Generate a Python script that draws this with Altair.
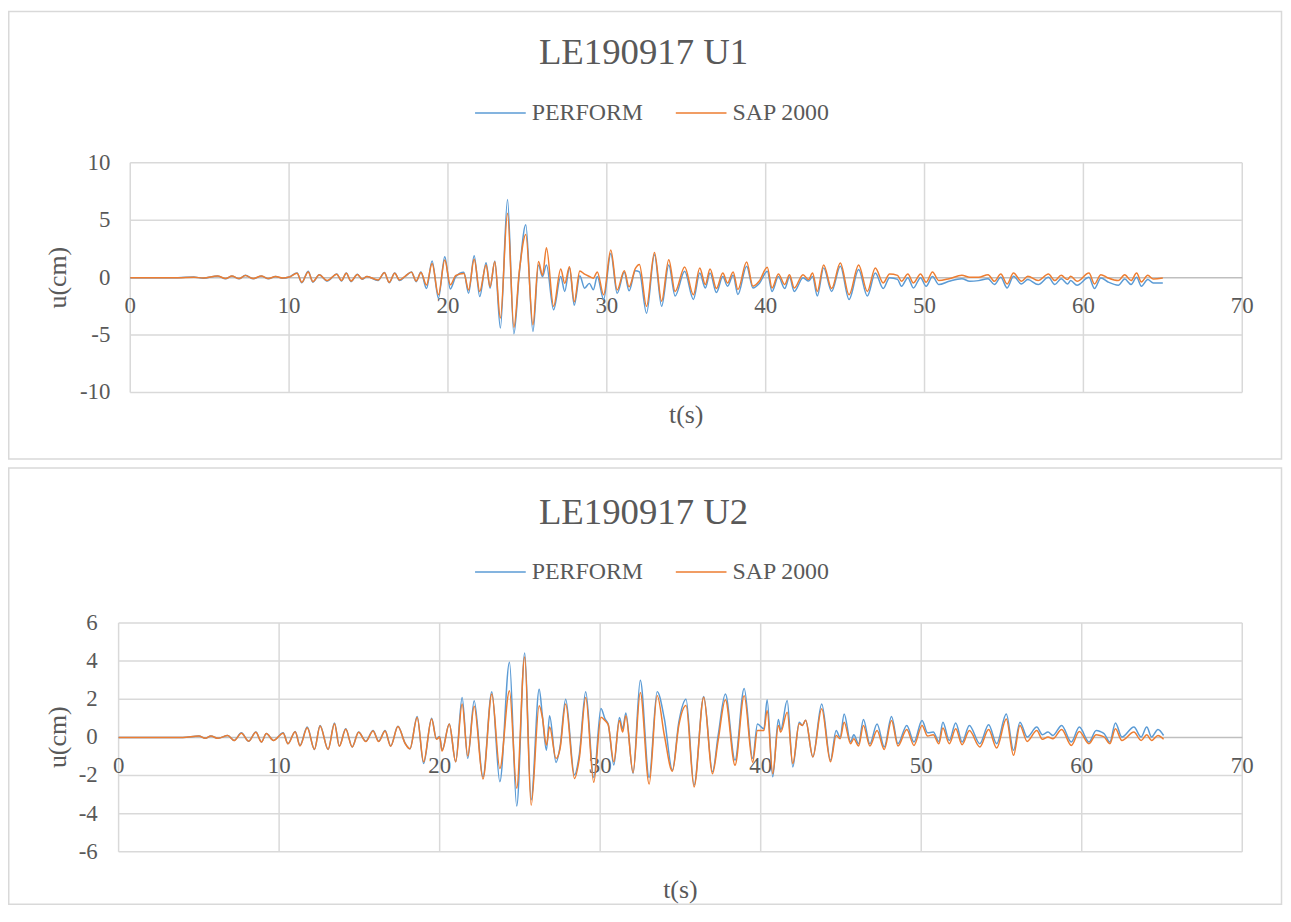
import altair as alt
import pandas as pd

# ---------------- text / categories ----------------
TITLE_U1 = "LE190917 U1"
TITLE_U2 = "LE190917 U2"
SERIES = ["PERFORM", "SAP 2000"]
COLORS = ["#5b9bd5", "#ed7d31"]
X_LABEL = "t(s)"
Y_LABEL = "u(cm)"
X_TICKS = [0, 10, 20, 30, 40, 50, 60, 70]
Y_TICKS_U1 = [-10, -5, 0, 5, 10]
Y_TICKS_U2 = [-6, -4, -2, 0, 2, 4, 6]

# ---------------- U1 : PERFORM ----------------
u1_perform_t = [0, 3.0, 4.0, 4.6, 5.5, 6.0, 6.4, 6.85, 7.25, 7.75, 8.25, 8.7, 9.15, 9.6, 10.0,
                10.5, 10.8, 11.2, 11.5, 11.9, 12.4, 13.0, 13.3, 13.6, 13.9, 14.3, 14.6, 14.9, 15.6,
                16.0, 16.3, 16.65, 16.95, 17.3, 17.7, 18.0, 18.3, 18.65, 19.0, 19.4, 19.8, 20.15,
                20.5, 21.0, 21.3, 21.65, 22.0, 22.4, 22.65, 22.95, 23.3, 23.75, 24.15, 24.5, 24.9,
                25.35, 25.7, 25.95, 26.2, 26.65, 27.1, 27.35, 27.65, 27.95, 28.3, 28.6, 28.9, 29.15,
                29.4, 29.8, 30.25, 30.65, 31.1, 31.4, 31.8, 32.05, 32.5, 33.0, 33.45, 33.9, 34.3,
                34.9, 35.45, 35.85, 36.2, 36.5, 36.9, 37.3, 37.6, 37.95, 38.25, 38.8, 39.2, 39.6,
                40.1, 40.4, 40.8, 41.2, 41.5, 41.8, 42.35, 42.7, 42.95, 43.25, 43.65, 44.15, 44.7,
                45.25, 45.85, 46.4, 46.9, 47.4, 47.8, 48.3, 48.55, 48.95, 49.3, 49.75, 50.1, 50.5,
                50.9, 51.55, 52.35, 52.85, 53.4, 54.0, 54.4, 54.8, 55.2, 55.6, 56.1, 56.5, 57.15,
                57.8, 58.2, 58.6, 59.0, 59.2, 59.6, 60.35, 60.7, 61.1, 61.55, 62.2, 62.6, 63.0,
                63.35, 63.65, 64.05, 64.4, 65.0]
u1_perform_u = [0, 0, 0.05, -0.05, 0.15, -0.1, 0.15, -0.1, 0.2, -0.1, 0.15, -0.1, 0.1, -0.05, 0.05,
                0.4, -0.45, 0.55, -0.4, 0.25, -0.3, 0.32, -0.3, 0.4, -0.35, 0.3, -0.15, 0.1, -0.25,
                0.45, -0.45, 0.4, -0.25, 0.1, 0.5, -0.35, 0.5, -0.95, 1.44, -1.79, 1.82, -0.98,
                0.1, 0.46, -1.36, 1.9, -1.65, 1.3, -0.92, 1.44, -4.39, 6.8, -4.9, 0.5, 4.6,
                -4.7, 1.1, 0.1, 1.1, -2.8, 0.1, -1.2, 0.87, -2.4, 0.17, -0.92, -0.5, -1.05,
                0.1, -1.9, 2.1, -1.36, 0.46, -1.15, 0.6, 0.5, -3.1, 2.0, -2.5, 1.1, -1.6,
                0.55, -1.9, 0.4, -0.9, 0.4, -1.3, 0.1, -0.75, 0.2, -1.47, 1.0, -0.9, -0.5,
                0.55, -1.2, 0.1, -0.95, 0.05, -1.2, 0.0, -0.3, 0.1, -1.6, 0.85, -1.2, 1.0,
                -1.9, 0.7, -1.6, 0.4, -0.95, 0.0, -0.15, -0.75, 0.0, -0.9, 0.0, -0.75, 0.1,
                -0.6, -0.32, -0.09, -0.32, -0.26, -0.09, -0.6, 0.03, -0.9, 0.12, -0.55, -0.17, -0.6,
                0.03, -0.6, -0.09, -0.55, -0.26, -0.66, 0.03, -0.95, -0.03, -0.38, -0.66, -0.12, -0.6,
                0.03, -0.75, -0.17, -0.46, -0.46]

# ---------------- U1 : SAP 2000 ----------------
u1_sap_t = u1_perform_t
u1_sap_u = [0, 0, 0.04, -0.04, 0.14, -0.08, 0.14, -0.08, 0.18, -0.08, 0.14, -0.08, 0.1, -0.04, 0.05,
            0.38, -0.4, 0.5, -0.35, 0.25, -0.25, 0.3, -0.25, 0.38, -0.3, 0.28, -0.12, 0.1, -0.2,
            0.42, -0.4, 0.38, -0.2, 0.12, 0.48, -0.3, 0.45, -0.65, 1.24, -1.5, 1.53, -0.63,
            0.2, 0.37, -1.07, 1.6, -1.2, 1.1, -0.78, 1.39, -3.52, 5.6, -4.33, 0.66, 3.75,
            -4.1, 1.4, 0.2, 2.6, -2.5, 0.75, -0.5, 0.95, -2.1, 0.58, 0.3, 0.1, -0.05,
            0.5, -1.5, 2.4, -1.07, 0.6, -0.8, 0.8, 1.15, -2.5, 2.2, -2.05, 1.56, -1.2,
            0.92, -1.5, 0.84, -0.6, 0.75, -0.95, 0.4, -0.46, 0.5, -1.04, 1.36, -0.75, -0.3,
            0.9, -0.9, 0.32, -0.6, 0.26, -0.9, 0.26, -0.17, 0.4, -1.2, 1.1, -0.95, 1.27,
            -1.5, 1.1, -1.2, 0.84, -0.46, 0.32, 0.2, -0.32, 0.32, -0.46, 0.32, -0.4, 0.5,
            -0.26, -0.09, 0.2, 0.03, 0.03, 0.26, -0.32, 0.32, -0.55, 0.4, -0.32, 0.12, -0.26,
            0.32, -0.26, 0.2, -0.17, 0.12, -0.32, 0.4, -0.55, 0.26, -0.03, -0.26, 0.26, -0.26,
            0.4, -0.38, 0.2, -0.12, -0.03]

# ---------------- U2 : PERFORM ----------------
u2_perform_t = [0, 4.0, 5.0, 5.4, 5.75, 6.2, 6.8, 7.2, 7.65, 8.1, 8.55, 8.9, 9.2, 9.65, 10.25,
                10.55, 11.0, 11.3, 11.75, 12.2, 12.55, 13.05, 13.45, 13.75, 14.15, 14.55, 14.95,
                15.4, 15.85, 16.2, 16.6, 16.95, 17.4, 17.85, 18.15, 18.6, 19.0, 19.5, 19.8, 20.0,
                20.15, 20.6, 21.0, 21.4, 21.75, 22.15, 22.7, 23.25, 23.75, 24.35, 24.8, 25.3, 25.7,
                26.2, 26.4, 26.65, 26.85, 27.25, 27.5, 27.85, 28.4, 28.7, 29.1, 29.6, 30.05, 30.3,
                30.5, 30.85, 31.2, 31.4, 31.6, 32.05, 32.5, 33.05, 33.55, 34.0, 34.5, 34.9, 35.35,
                35.85, 36.45, 37.0, 37.35, 37.8, 38.4, 38.97, 39.5, 39.8, 40.2, 40.4, 40.75, 41.1,
                41.25, 41.65, 42.0, 42.4, 42.6, 42.8, 43.25, 43.8, 44.35, 44.7, 44.95, 45.2, 45.6,
                45.8, 46.1, 46.4, 46.8, 47.25, 47.7, 48.15, 48.55, 49.1, 49.55, 50.05, 50.4, 50.75,
                51.1, 51.35, 51.75, 52.15, 52.55, 53.0, 53.65, 54.2, 54.7, 55.3, 55.75, 56.15, 56.6,
                57.2, 57.55, 57.9, 58.2, 58.75, 59.35, 59.85, 60.45, 60.9, 61.15, 61.4, 61.75, 62.1,
                62.5, 63.25, 63.7, 64.05, 64.35, 64.75, 65.1]
u2_perform_u = [0, 0, 0.07, -0.05, 0.07, -0.05, 0.1, -0.16, 0.24, -0.2, 0.28, -0.24, 0.2, -0.16, 0.24,
                -0.33, 0.31, -0.42, 0.54, -0.63, 0.63, -0.63, 0.75, -0.45, 0.45, -0.5, 0.28,
                -0.2, 0.36, -0.2, 0.36, -0.45, 0.59, -0.3, -0.6, 1.1, -1.37, 1.0, -0.07, 0.05,
                -0.67, 0.7, -1.28, 2.09, -1.1, 1.92, -2.06, 2.39, -2.32, 3.94, -3.6, 4.43, -3.27,
                2.53, 1.14, -0.67, 1.14, -1.31, -0.5, 2.0, -1.97, -0.9, 2.39, -2.1, 1.52, 0.97,
                0.7, -1.45, 1.05, 0.45, 1.28, -1.89, 3.0, -2.1, 2.4, 0.97, -1.72, 0.8, 2.0,
                -2.5, 2.15, -1.8, 0.1, 2.27, -1.2, 2.57, -1.1, 0.7, 0.45, 1.98, -2.07, 0.94,
                0.4, 1.93, -1.55, 0.8, 0.63, 0.9, -1.02, 1.75, -1.2, 0.36, 0.0, 1.23, -0.24,
                0.14, -0.33, 0.94, -0.33, 0.7, -0.5, 1.1, -0.33, 0.63, -0.24, 0.89, 0.24, 0.28,
                -0.21, 0.8, -0.16, 0.76, -0.24, 0.63, -0.33, 0.66, -0.33, 1.23, -0.68, 0.8, 0.02,
                0.54, 0.14, 0.28, 0.1, 0.63, -0.24, 0.54, -0.24, 0.36, 0.31, 0.19, -0.24, 0.76,
                0.02, 0.54, 0.02, 0.54, 0.02, 0.42, 0.1]

# ---------------- U2 : SAP 2000 ----------------
u2_sap_t = u2_perform_t
u2_sap_u = [0, 0, 0.07, -0.05, 0.07, -0.05, 0.1, -0.16, 0.22, -0.2, 0.27, -0.24, 0.2, -0.16, 0.22,
            -0.33, 0.3, -0.45, 0.5, -0.63, 0.6, -0.63, 0.72, -0.47, 0.43, -0.5, 0.27,
            -0.22, 0.34, -0.22, 0.34, -0.47, 0.57, -0.32, -0.6, 1.04, -1.28, 0.97, -0.1, 0.02,
            -0.72, 0.7, -1.28, 1.75, -0.97, 1.63, -2.18, 2.27, -1.63, 2.44, -2.66, 4.22, -3.56,
            1.66, 1.05, -0.4, 0.54, -1.1, -0.6, 1.75, -2.15, -1.1, 2.09, -2.35, 1.06, 0.88,
            0.66, -1.28, 0.88, 0.28, 1.14, -1.84, 2.36, -2.45, 2.19, 0.1, -1.77, 0.63, 1.67,
            -2.6, 2.1, -1.9, -0.16, 1.98, -1.46, 2.19, -1.3, 0.36, 0.36, 1.41, -1.9, 0.63,
            0.28, 1.32, -1.37, 0.71, 0.63, 0.9, -1.02, 1.5, -1.28, 0.1, -0.07, 0.8, -0.33,
            -0.07, -0.45, 0.63, -0.45, 0.36, -0.63, 0.89, -0.45, 0.42, -0.42, 0.63, 0.07, 0.14,
            -0.33, 0.49, -0.33, 0.45, -0.38, 0.36, -0.5, 0.42, -0.56, 0.97, -0.94, 0.63, -0.21,
            0.36, -0.1, 0.02, -0.07, 0.42, -0.42, 0.31, -0.33, 0.14, 0.1, 0.02, -0.33, 0.45,
            -0.16, 0.28, -0.16, 0.14, -0.16, 0.1, -0.1]

# ---------------- styling ----------------
FONT = "Liberation Serif"
TXT = "#595959"
GRID = "#d9d9d9"
ZERO = "#bfbfbf"
W, H = 1283, 900


def lines_frame(pt, pu, st, su):
    a = pd.DataFrame({"t": pt, "u": pu, "series": SERIES[0]})
    b = pd.DataFrame({"t": st, "u": su, "series": SERIES[1]})
    return pd.concat([a, b], ignore_index=True)


def panel(df, title, yticks, ydom, xr, yr, box, title_y, legend_y,
          xtitle_xy, ytitle_xy, ylab_dx):
    xs = alt.Scale(domain=[0, 70], range=xr, nice=False, zero=False)
    ys = alt.Scale(domain=ydom, range=yr, nice=False, zero=False)

    def X(f):
        return alt.X(f, scale=xs, axis=None)

    def Y(f):
        return alt.Y(f, scale=ys, axis=None)

    border = alt.Chart(pd.DataFrame({"k": [0]})).mark_rect(
        fillOpacity=0, stroke=GRID, strokeWidth=1.5
    ).encode(x=alt.value(box[0]), x2=alt.value(box[1]),
             y=alt.value(box[2]), y2=alt.value(box[3]))

    vgrid = alt.Chart(pd.DataFrame({"gt": X_TICKS, "ya": ydom[0], "yb": ydom[1]})).mark_rule(
        color=GRID, strokeWidth=1.5
    ).encode(x=X("gt:Q"), y=Y("ya:Q"), y2="yb:Q")

    hgrid = alt.Chart(pd.DataFrame({"gu": [v for v in yticks if v != 0], "xa": 0, "xb": 70})).mark_rule(
        color=GRID, strokeWidth=1.5
    ).encode(y=Y("gu:Q"), x=X("xa:Q"), x2="xb:Q")

    zero_line = alt.Chart(pd.DataFrame({"zu": [0], "xa": [0], "xb": [70]})).mark_rule(
        color=ZERO, strokeWidth=1.5
    ).encode(y=Y("zu:Q"), x=X("xa:Q"), x2="xb:Q")

    xlabels = alt.Chart(pd.DataFrame({"gt": X_TICKS, "zu": 0,
                                      "lab": [str(v) for v in X_TICKS]})).mark_text(
        font=FONT, fontSize=23, color=TXT, align="center", baseline="alphabetic", dy=35.5
    ).encode(x=X("gt:Q"), y=Y("zu:Q"), text="lab:N")

    ylabels = alt.Chart(pd.DataFrame({"gu": yticks, "xa": 0,
                                      "lab": [str(v) for v in yticks]})).mark_text(
        font=FONT, fontSize=23, color=TXT, align="right", baseline="middle", dx=ylab_dx
    ).encode(x=X("xa:Q"), y=Y("gu:Q"), text="lab:N")

    xtitle = alt.Chart(pd.DataFrame({"label": [X_LABEL]})).mark_text(
        font=FONT, fontSize=26, color=TXT, align="center", baseline="middle"
    ).encode(text="label:N", x=alt.value(xtitle_xy[0]), y=alt.value(xtitle_xy[1]))

    ytitle = alt.Chart(pd.DataFrame({"label": [Y_LABEL]})).mark_text(
        font=FONT, fontSize=26, color=TXT, align="center", baseline="middle", angle=270
    ).encode(text="label:N", x=alt.value(ytitle_xy[0]), y=alt.value(ytitle_xy[1]))

    legend = alt.Legend(
        orient="none", legendX=469, legendY=legend_y, direction="horizontal", title=None,
        symbolType="stroke", symbolSize=2601, symbolStrokeWidth=1.5,
        labelFont=FONT, labelFontSize=24, labelColor=TXT, labelOffset=5,
        columnPadding=29, padding=0,
    )
    lines = alt.Chart(df).mark_line(interpolate="monotone", strokeWidth=1.5).encode(
        x=X("t:Q"),
        y=Y("u:Q"),
        color=alt.Color("series:N", scale=alt.Scale(domain=SERIES, range=COLORS), legend=legend),
    )

    title_mark = alt.Chart(pd.DataFrame({"label": [title]})).mark_text(
        font=FONT, fontSize=37, color=TXT, align="center", baseline="alphabetic"
    ).encode(text="label:N", x=alt.value(639.5), y=alt.value(title_y))

    return alt.layer(border, vgrid, hgrid, zero_line, xlabels, ylabels,
                     xtitle, ytitle, lines, title_mark)


top = panel(
    lines_frame(u1_perform_t, u1_perform_u, u1_sap_t, u1_sap_u), TITLE_U1,
    Y_TICKS_U1, [-10, 10], [123, 1242], [384, 153],
    (0.75, 1281.5, 0.75, 451), 54, 76,
    (682.5, 407), (50, 268.5), -20,
)
bottom = panel(
    lines_frame(u2_perform_t, u2_perform_u, u2_sap_t, u2_sap_u), TITLE_U2,
    Y_TICKS_U2, [-6, 6], [111.3, 1242], [846.3, 616],
    (0.75, 1281.5, 460, 899), 516, 538,
    (676.6, 885), (50, 731), -21,
)

chart = alt.layer(top, bottom).resolve_scale(
    x="independent", y="independent", color="independent"
).properties(
    width=W, height=H, autosize=alt.AutoSizeParams(type="none"), padding=0,
    background="white",
).configure_view(stroke=None)

chart.save("out.html", embed_options={"renderer": "svg", "actions": False})
